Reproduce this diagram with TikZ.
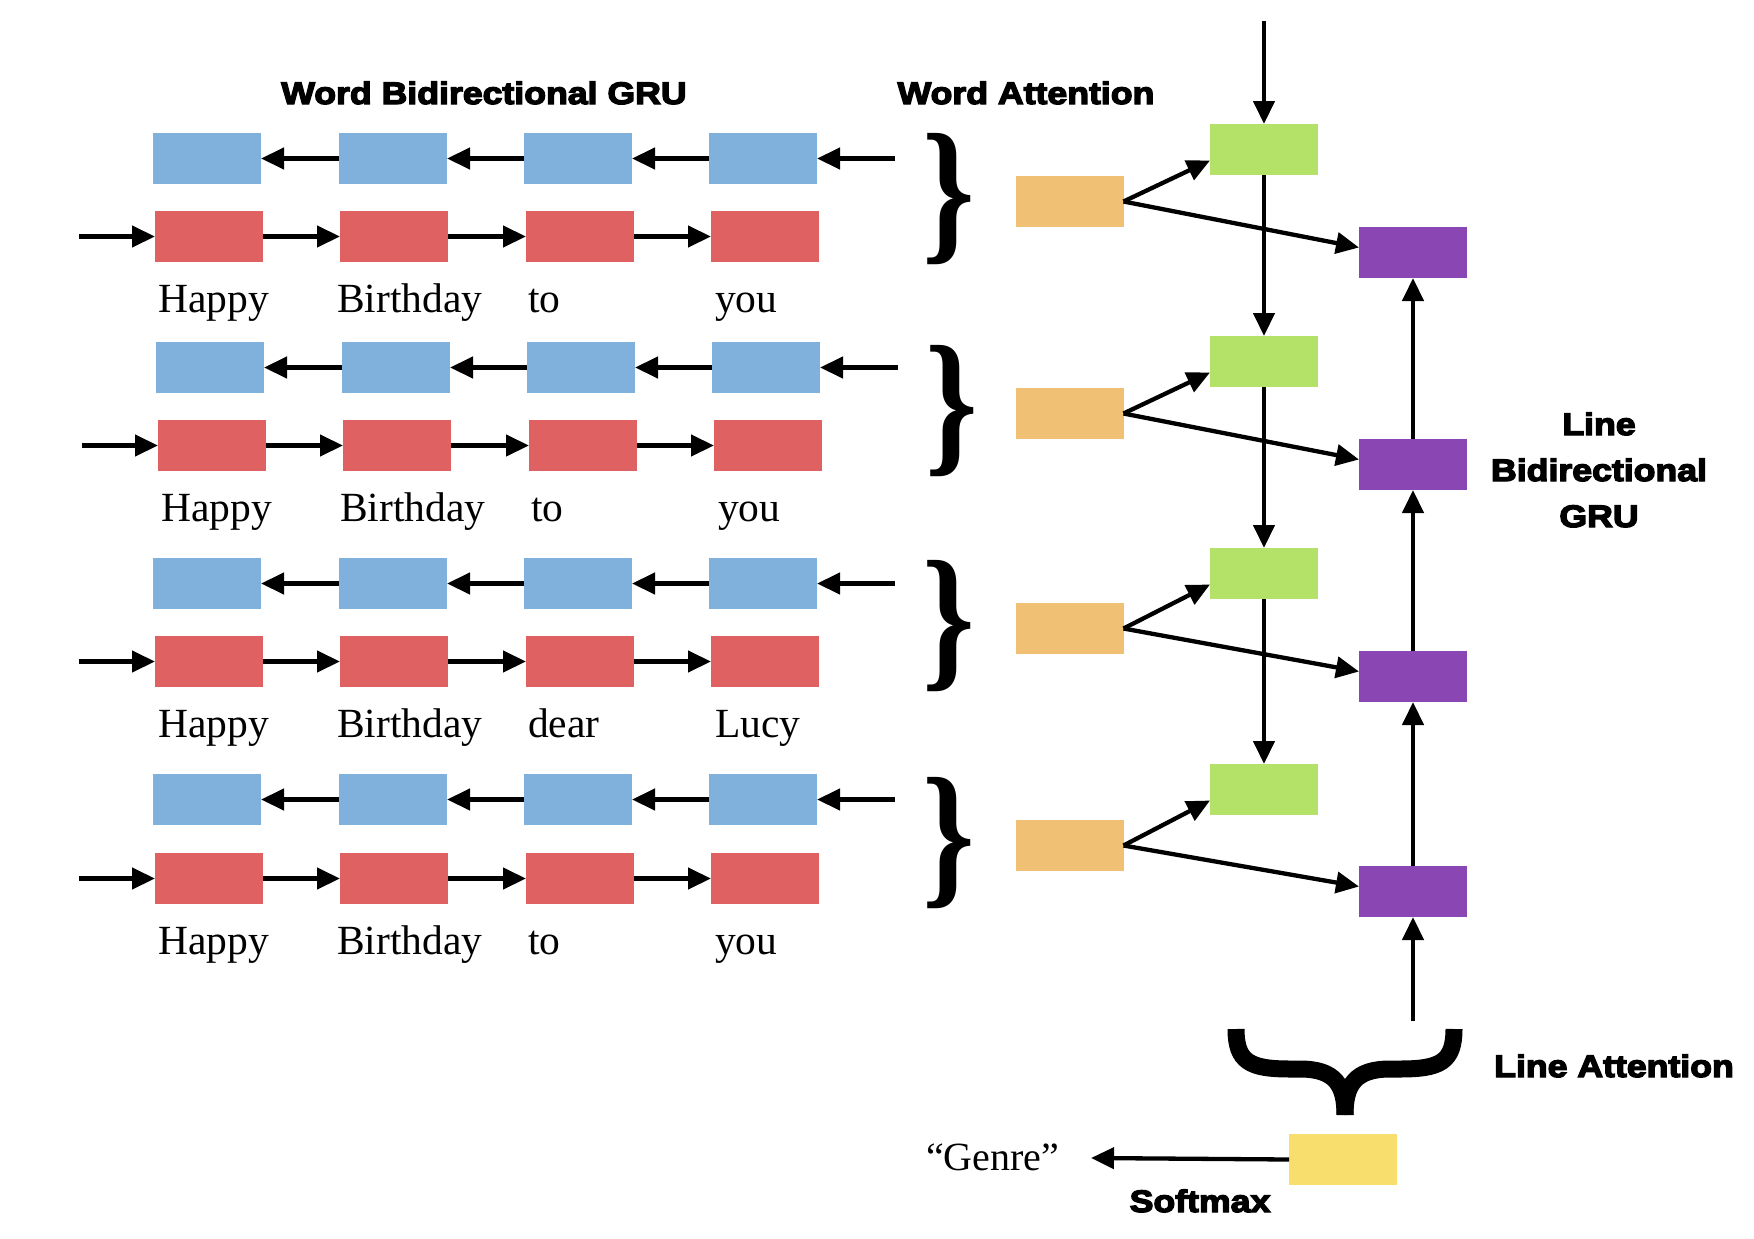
\documentclass[tikz,border=0pt]{standalone}
\usepackage{fontspec}
\usepackage{graphicx}
\setmainfont{Liberation Serif}
\newfontfamily\headfont{Liberation Sans}[FakeStretch=1.15,BoldFeatures={FakeBold=4.5}]
\usetikzlibrary{arrows.meta,calc}
\definecolor{cblue}{HTML}{80B1DC}
\definecolor{cred}{HTML}{E06161}
\definecolor{corange}{HTML}{F0C075}
\definecolor{cgreen}{HTML}{B4E168}
\definecolor{cpurple}{HTML}{8A47B4}
\definecolor{cyellow}{HTML}{F8DE6C}
\tikzset{
  box/.style={minimum width=108pt, minimum height=51pt, inner sep=0pt, outer sep=0pt},
  bluebox/.style={box, fill=cblue},
  redbox/.style={box, fill=cred},
  orangebox/.style={box, fill=corange},
  greenbox/.style={box, fill=cgreen},
  purplebox/.style={box, fill=cpurple},
  yellowbox/.style={box, fill=cyellow},
  arr/.style={line width=4.3pt, -{Triangle[length=23pt,width=21pt]}},
  word/.style={font=\fontsize{41.5}{48}\selectfont, inner sep=0pt, anchor=base west},
  head/.style={font=\headfont\bfseries\fontsize{31}{36}\selectfont, inner sep=0pt, anchor=base},
  rbrace/.style={font=\bfseries\fontsize{158.7}{160}\selectfont, inner sep=0pt, xscale=0.84},
  bigbrace/.style={line width=17pt, line cap=butt},
}
\begin{document}
\begin{tikzpicture}[x=1pt,y=-1pt]
\fill[white] (0,0) rectangle (1754,1239);
\useasboundingbox (0,0) rectangle (1754,1239);

% word-level GRU rows
\foreach \rowN/\blueT/\redT/\offX/\wordA/\wordB/\wordC/\wordD in {1/133/211/0/Happy/Birthday/to/you, 2/342/420/3/Happy/Birthday/to/you, 3/558/636/0/Happy/Birthday/dear/Lucy, 4/774/853/0/Happy/Birthday/to/you}{
  \foreach \colN/\blueX/\redX/\labX/\wordX in {1/207/209/158/\wordA, 2/393/394/337/\wordB, 3/578/580/528/\wordC, 4/763/765/715/\wordD}{
    \node[bluebox] (b\rowN\colN) at (\blueX+\offX, \blueT+25.5) {};
    \node[redbox] (r\rowN\colN) at (\redX+\offX, \redT+25.5) {};
    \node[word] (w\rowN\colN) at (\labX+\offX, \redT+101) {\wordX};
  }
  \foreach \colA/\colB in {1/2, 2/3, 3/4}{
    \draw[arr] (b\rowN\colB.west) -- (b\rowN\colA.east);
    \draw[arr] (r\rowN\colA.east) -- (r\rowN\colB.west);
  }
  \coordinate (bin\rowN) at (895+\offX, \blueT+25.5);
  \coordinate (rin\rowN) at (79+\offX, \redT+25.5);
  \draw[arr] (bin\rowN) -- (b\rowN4.east);
  \draw[arr] (rin\rowN) -- (r\rowN1.west);
}

% attention column
\foreach \rowN/\orT/\grT/\puT/\brX in {1/176/124/227/949, 2/388/336/439/952, 3/603/548/651/949, 4/820/764/866/949}{
  \node[orangebox] (o\rowN) at (1069.5, \orT+25.5) {};
  \node[greenbox] (g\rowN) at (1264, \grT+25.5) {};
  \node[purplebox] (p\rowN) at (1413, \puT+25.5) {};
  \node[rbrace] (br\rowN) at (\brX, \orT+23.5) {\}};
}
\coordinate (gtop) at (1264,21);
\draw[arr] (gtop) -- (g1.north);
\draw[arr] (g1.south) -- (g2.north);
\draw[arr] (g2.south) -- (g3.north);
\draw[arr] (g3.south) -- (g4.north);
\foreach \rowN in {1,2,3,4}{
  \draw[arr] (o\rowN.east) -- ([yshift=-11pt]g\rowN.west);
  \draw[arr] (o\rowN.east) -- ([yshift=5pt]p\rowN.west);
}
\coordinate (pin) at (1413,1021);
\draw[arr] (pin) -- (p4.south);
\draw[arr] (p4.north) -- (p3.south);
\draw[arr] (p3.north) -- (p2.south);
\draw[arr] (p2.north) -- (p1.south);

% line attention brace
\draw[bigbrace] (1236,1029) .. controls (1236,1062) and (1250,1069) .. (1290,1069) -- (1300,1069) .. controls (1335,1069) and (1345,1085) .. (1345,1115);
\draw[bigbrace] (1454,1029) .. controls (1454,1062) and (1440,1069) .. (1400,1069) -- (1390,1069) .. controls (1355,1069) and (1345,1085) .. (1345,1115);

% softmax output
\node[yellowbox] (ybox) at (1343,1159.5) {};
\coordinate (gout) at (1091,1158);
\draw[arr] (ybox.west) -- (gout);
\node[word, font=\fontsize{40}{48}\selectfont] (genre) at (926,1170) {“Genre”};

% headings
\node[head] (wbg) at (484,104) {Word Bidirectional GRU};
\node[head] (wat) at (1026,104) {Word Attention};
\node[head] (lb1) at (1599,435) {Line};
\node[head] (lb2) at (1599,481) {Bidirectional};
\node[head] (lb3) at (1599,527) {GRU};
\node[head] (lat) at (1614,1077) {Line Attention};
\node[head] (smx) at (1200,1212) {Softmax};
\end{tikzpicture}
\end{document}
